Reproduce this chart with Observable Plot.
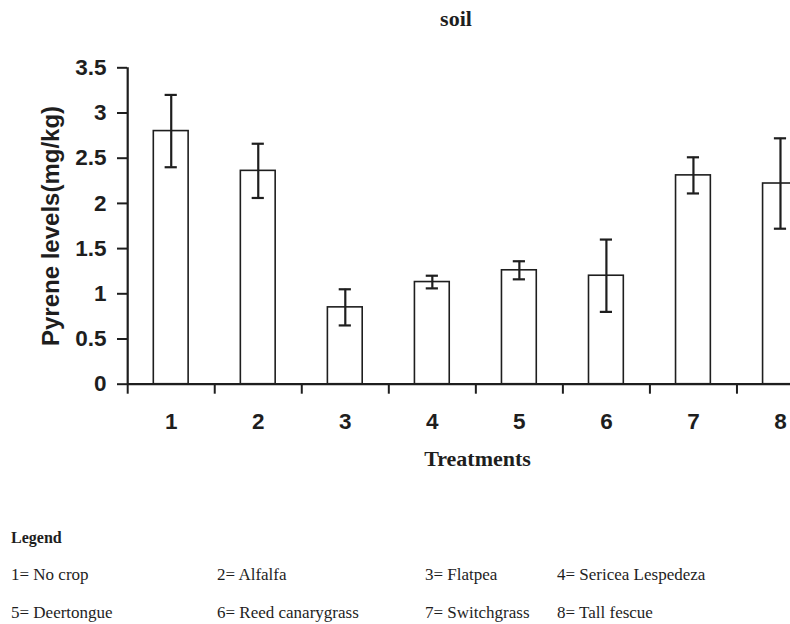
<!DOCTYPE html>
<html>
<head>
<meta charset="utf-8">
<script src="https://cdn.jsdelivr.net/npm/d3@7"></script>
<script src="https://cdn.jsdelivr.net/npm/@observablehq/plot@0.6"></script>
<style>
  html, body { margin: 0; padding: 0; background: white; overflow: hidden; }
  #wrap { position: relative; width: 790px; height: 624px; overflow: hidden; }
  #chart { position: absolute; left: 0; top: 0; }
  .t { position: absolute; white-space: nowrap; line-height: 1; color: #1e1e1e; }
  .serif { font-family: "Liberation Serif", "Times New Roman", serif; }
</style>
</head>
<body>
<div id="wrap">
  <div id="chart"></div>
</div>
<script>
// ---- data ----
const treatments = [1, 2, 3, 4, 5, 6, 7, 8];
const means  = [2.80, 2.36, 0.85, 1.13, 1.26, 1.20, 2.31, 2.22];
const errors = [0.40, 0.30, 0.20, 0.07, 0.10, 0.40, 0.20, 0.50];
const yTicks = [0, 0.5, 1, 1.5, 2, 2.5, 3, 3.5];
const yTickLabels = ["0", "0.5", "1", "1.5", "2", "2.5", "3", "3.5"];
const legendNames = ["No crop", "Alfalfa", "Flatpea", "Sericea Lespedeza",
                     "Deertongue", "Reed canarygrass", "Switchgrass", "Tall fescue"];
const titleText = "soil";
const xLabel = "Treatments";
const yLabel = "Pyrene levels(mg/kg)";

const data = treatments.map((t, i) => ({t, mean: means[i], err: errors[i]}));
const boundaries = treatments.map(t => t - 0.5);
const ink = "#1e1e1e";
const half = 0.2, cap = 0.07;

const chart = Plot.plot({
  width: 790,
  height: 480,
  marginLeft: 127,
  marginRight: 0,
  marginTop: 67.3,
  marginBottom: 96.3,
  x: {domain: [0.5, 8.5], range: [127.2, 823.5]},
  y: {domain: [0, 3.5]},
  style: {background: "white", color: ink, fontFamily: "'Liberation Sans', Arial, sans-serif"},
  marks: [
    Plot.rect(data, {x1: d => d.t - half, x2: d => d.t + half, y1: 0, y2: "mean",
      fill: "white", stroke: ink, strokeWidth: 1.6}),
    Plot.ruleX(data, {x: "t", y1: d => d.mean - d.err, y2: d => d.mean + d.err,
      stroke: ink, strokeWidth: 2.2}),
    Plot.ruleY(data, {y: d => d.mean + d.err, x1: d => d.t - cap, x2: d => d.t + cap,
      stroke: ink, strokeWidth: 2.2}),
    Plot.ruleY(data, {y: d => d.mean - d.err, x1: d => d.t - cap, x2: d => d.t + cap,
      stroke: ink, strokeWidth: 2.2}),
    Plot.axisY({ticks: yTicks, tickFormat: d => yTickLabels[yTicks.indexOf(d)],
      tickSize: 10, tickPadding: 11, fontSize: 22.5, fontWeight: "bold",
      label: null, strokeWidth: 2}),
    Plot.axisX({ticks: boundaries, tickFormat: () => "", tickSize: 10,
      label: null, strokeWidth: 2}),
    Plot.axisX({ticks: treatments, tickFormat: d => String(d), tickSize: 0,
      tickPadding: 29, fontSize: 22.5, fontWeight: "bold", label: null}),
    Plot.ruleY([0], {stroke: ink, strokeWidth: 2.2}),
    Plot.ruleX([0.5], {stroke: ink, strokeWidth: 2.2}),
    Plot.text([yLabel], {frameAnchor: "left", rotate: -90, dx: -76, textAnchor: "middle",
      fontSize: 24, fontWeight: "bold", fill: ink})
  ]
});
document.getElementById("chart").appendChild(chart);

// ---- text outside the plot (title, x label, legend) ----
const wrap = document.getElementById("wrap");
function addText(txt, x, baseline, size, opts = {}) {
  const el = document.createElement("div");
  el.className = "t serif";
  el.textContent = txt;
  el.style.fontSize = size + "px";
  el.style.fontWeight = opts.bold ? "bold" : "normal";
  el.style.top = (baseline - 0.8375 * size) + "px";
  el.style.left = x + "px";
  if (opts.center) el.style.transform = "translateX(-50%)";
  wrap.appendChild(el);
}
addText(titleText, 456, 26.7, 22, {bold: true, center: true});
addText(xLabel, 477.5, 466, 22, {bold: true, center: true});
addText("Legend", 11, 543, 16, {bold: true});
const colX = [11, 217, 425, 557];
const rowY = [580, 618];
legendNames.forEach((name, i) => {
  addText(treatments[i] + "= " + name, colX[i % 4], rowY[Math.floor(i / 4)], 17);
});
</script>
</body>
</html>
